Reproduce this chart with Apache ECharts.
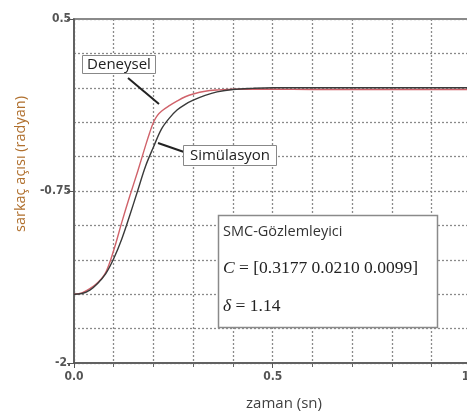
<!DOCTYPE html>
<html>
<head>
<meta charset="utf-8">
<script src="https://cdn.jsdelivr.net/npm/echarts@6/dist/echarts.min.js"></script>
<style>html,body{margin:0;padding:0;background:#fff}#c{width:467px;height:417px}</style>
</head>
<body>
<div id="c"></div>
<script>
// time samples (s)
const timeRed = [0, 0.02, 0.04, 0.06, 0.08, 0.10, 0.12, 0.14, 0.16, 0.18, 0.19, 0.20, 0.21, 0.22, 0.24, 0.26, 0.28, 0.30, 0.33, 0.36, 0.40, 0.45, 0.50, 0.60, 0.70, 0.80, 0.90, 1.00];
const deneysel = [-1.5, -1.49, -1.46, -1.415, -1.34, -1.18, -0.98, -0.79, -0.61, -0.42, -0.33, -0.25, -0.20, -0.17, -0.13, -0.095, -0.065, -0.045, -0.025, -0.016, -0.010, -0.010, -0.011, -0.012, -0.012, -0.012, -0.012, -0.012];
const timeBlack = [0, 0.02, 0.04, 0.06, 0.08, 0.10, 0.12, 0.14, 0.16, 0.18, 0.20, 0.22, 0.24, 0.26, 0.28, 0.30, 0.33, 0.36, 0.40, 0.45, 0.50, 0.60, 0.70, 0.80, 0.90, 1.00];
const simulasyon = [-1.5, -1.495, -1.47, -1.42, -1.35, -1.24, -1.10, -0.93, -0.75, -0.57, -0.43, -0.30, -0.22, -0.16, -0.12, -0.09, -0.055, -0.03, -0.012, -0.004, 0, 0, 0, 0, 0, 0];
const yTickValues = [-2, -0.75, 0.5];
const yTickLabels = ['-2.', '-0.75', '0.5'];
const xTickValues = [0, 0.5, 1.0];
const xTickLabels = ['0.0', '0.5', '1.0'];
const seriesNames = ['Deneysel', 'Simülasyon'];
const infoLines = ['SMC-Gözlemleyici', '[0.3177 0.0210 0.0099]', '1.14'];

const chart = echarts.init(document.getElementById('c'), null, {renderer: 'canvas'});
const grid = {left: 74, top: 19, right: -4.4, bottom: 54};
const tickFont = {fontFamily: 'Liberation Sans Narrow, DejaVu Sans Condensed, sans-serif', fontSize: 12, fontWeight: 'bold', color: '#555'};
const dotted = {color: '#8a8a8a', width: 1.3, type: [2, 2]};

function fmt(values, labels) {
  return function (v) {
    for (let i = 0; i < values.length; i++) if (Math.abs(values[i] - v) < 1e-6) return labels[i];
    return '';
  };
}

chart.setOption({
  animation: false,
  grid: Object.assign({show: true, borderColor: '#8a8a8a', borderWidth: 2, containLabel: false, outerBoundsMode: 'none'}, grid),
  xAxis: {
    type: 'value', min: 0, max: 1.0, interval: 0.5,
    axisLine: {show: true, onZero: false, lineStyle: {color: '#555', width: 1.5}},
    axisTick: {show: true, length: 5, lineStyle: {color: '#555'}},
    minorTick: {show: true, splitNumber: 5, length: 4, lineStyle: {color: '#666'}},
    splitLine: {show: true, lineStyle: dotted},
    minorSplitLine: {show: true, lineStyle: dotted},
    axisLabel: Object.assign({margin: 8, hideOverlap: false, formatter: fmt(xTickValues, xTickLabels)}, tickFont)
  },
  yAxis: {
    type: 'value', min: -2, max: 0.5, interval: 1.25,
    axisLine: {show: true, onZero: false, lineStyle: {color: '#555', width: 1.5}},
    axisTick: {show: true, length: 7, lineStyle: {color: '#555'}},
    minorTick: {show: false, splitNumber: 5},
    splitLine: {show: true, lineStyle: dotted},
    minorSplitLine: {show: true, lineStyle: dotted},
    axisLabel: Object.assign({margin: 3, formatter: fmt(yTickValues, yTickLabels)}, tickFont)
  },
  series: [
    {name: seriesNames[0], type: 'line', showSymbol: false, smooth: 0.35,
     data: timeRed.map((t, i) => [t, deneysel[i]]),
     lineStyle: {color: '#d0626a', width: 1.4}, z: 3},
    {name: seriesNames[1], type: 'line', showSymbol: false, smooth: 0.35,
     data: timeBlack.map((t, i) => [t, simulasyon[i]]),
     lineStyle: {color: '#3a3a3a', width: 1.4}, z: 4}
  ],
  graphic: [
    {type: 'text', x: 21, y: 164, rotation: Math.PI / 2,
     style: {text: 'sarkaç açısı (radyan)', font: '14.5px "Open Sans", sans-serif', fill: '#b0702e', align: 'center', verticalAlign: 'middle'}},
    {type: 'text', x: 284, y: 404,
     style: {text: 'zaman (sn)', font: '15px "Open Sans", sans-serif', fill: '#404040', align: 'center', verticalAlign: 'middle'}},
    // Deneysel label
    {type: 'line', shape: {x1: 128, y1: 78, x2: 159, y2: 104}, style: {stroke: '#222', lineWidth: 2}, z: 10},
    {type: 'rect', shape: {x: 82.5, y: 55.5, width: 73, height: 18}, style: {fill: '#fff', stroke: '#888', lineWidth: 1}, z: 10},
    {type: 'text', x: 119, y: 64.5, z: 11,
     style: {text: seriesNames[0], font: '15px "Open Sans", sans-serif', fill: '#222', align: 'center', verticalAlign: 'middle'}},
    // Simülasyon label
    {type: 'line', shape: {x1: 158, y1: 143, x2: 184, y2: 152}, style: {stroke: '#222', lineWidth: 2}, z: 10},
    {type: 'rect', shape: {x: 183.5, y: 145.5, width: 93, height: 20}, style: {fill: '#fff', stroke: '#888', lineWidth: 1}, z: 10},
    {type: 'text', x: 230, y: 155.5, z: 11,
     style: {text: seriesNames[1], font: '15px "Open Sans", sans-serif', fill: '#222', align: 'center', verticalAlign: 'middle'}},
    // info box
    {type: 'rect', shape: {x: 218.5, y: 215.5, width: 219, height: 112}, style: {fill: '#fff', stroke: '#8a8a8a', lineWidth: 1.5}, z: 10},
    {type: 'text', x: 223, y: 232, z: 11,
     style: {text: infoLines[0], font: '14.5px "Open Sans", sans-serif', fill: '#333', align: 'left', verticalAlign: 'middle'}},
    {type: 'text', x: 223, y: 268, z: 11,
     style: {text: '{i|C} = ' + infoLines[1], font: '17.5px "Liberation Serif", serif', fill: '#222', align: 'left', verticalAlign: 'middle',
       rich: {i: {fontStyle: 'italic', fontFamily: 'Liberation Serif', fontSize: 17.5, fill: '#222'}}}},
    {type: 'text', x: 223, y: 306, z: 11,
     style: {text: '{i|δ} = ' + infoLines[2], font: '17.5px "Liberation Serif", serif', fill: '#222', align: 'left', verticalAlign: 'middle',
       rich: {i: {fontStyle: 'italic', fontFamily: 'Liberation Serif', fontSize: 17.5, fill: '#222'}}}}
  ]
});
</script>
</body>
</html>
